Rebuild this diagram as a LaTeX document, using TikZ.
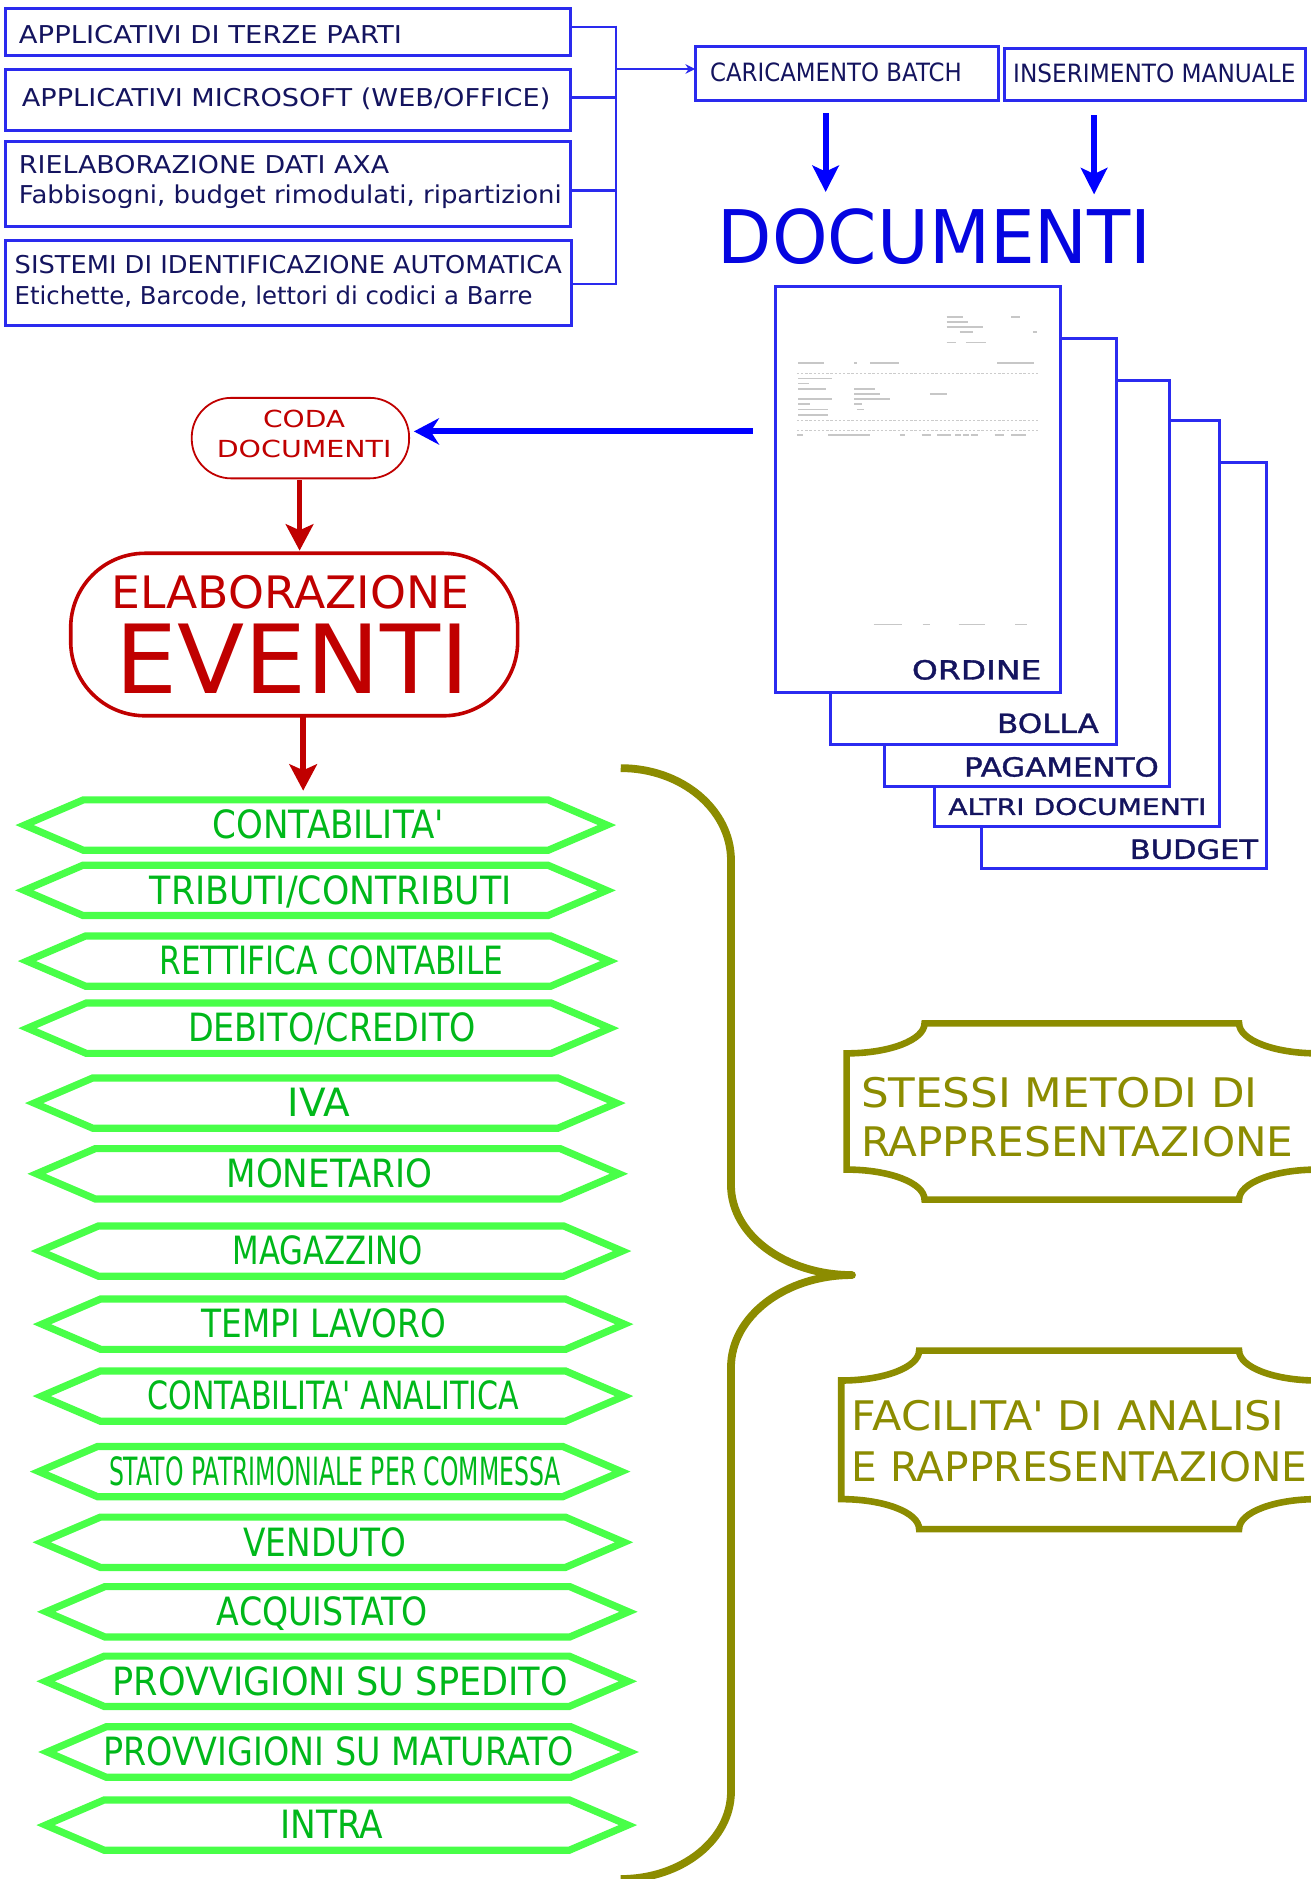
\documentclass[tikz,border=0pt]{standalone}
\usepackage{fontspec}
\setmainfont{DejaVu Sans}
\newfontfamily\pgfont[FakeBold=1.2]{DejaVu Sans}
\usetikzlibrary{arrows.meta}
\definecolor{navy}{HTML}{14145F}
\definecolor{bxblue}{HTML}{2A2AEE}
\definecolor{arblue}{HTML}{0000FF}
\definecolor{docblue}{HTML}{0505E0}
\definecolor{pgblue}{HTML}{2B2BF0}
\definecolor{dred}{HTML}{C00000}
\definecolor{hexg}{HTML}{48FF48}
\definecolor{txtg}{HTML}{00B81A}
\definecolor{olivetwo}{HTML}{8C8C00}
\newcommand{\fw}[2]{\resizebox{#1pt}{\height}{#2}}
\newcommand{\fs}[1]{\fontsize{#1}{#1}\selectfont}
\newcommand{\ap}{\textquotesingle}
\newcommand{\hexa}[6]{%
  \node[hexbox] (#1) at (#2,#3) {};
  \draw[hexline] (#1.west) -- ([xshift=49pt]#1.north west) -- ([xshift=-49pt]#1.north east) -- (#1.east) -- ([xshift=-49pt]#1.south east) -- ([xshift=49pt]#1.south west) -- cycle;
  \node[gtext] (#1t) at (#4,#3+11.5) {\fw{#5}{#6}};
}
\newcommand{\plaque}[4]{%
  \draw[plq] (#1,#2+25) .. controls (#1+35.9,#2+25) and (#1+65,#2+13.8) .. (#1+65,#2) -- (#3-65,#2) .. controls (#3-65,#2+13.8) and (#3-35.9,#2+25) .. (#3,#2+25) -- (#3,#4-25) .. controls (#3-35.9,#4-25) and (#3-65,#4-13.8) .. (#3-65,#4) -- (#1+65,#4) .. controls (#1+65,#4-13.8) and (#1+35.9,#4-25) .. (#1,#4-25) -- cycle;
}
\begin{document}
\begin{tikzpicture}[x=1pt,y=-1pt,
  lbl/.style={inner sep=0pt,outer sep=0pt,anchor=base west},
  lblc/.style={inner sep=0pt,outer sep=0pt,anchor=base},
  lble/.style={inner sep=0pt,outer sep=0pt,anchor=base east},
  srcbox/.style={draw=bxblue,line width=2.5pt,anchor=north west,inner sep=0pt,outer sep=0pt},
  conn/.style={draw=bxblue,line width=2pt},
  varrow/.style={draw=arblue,line width=5pt,-{Stealth[length=22pt,width=22pt,inset=5pt]}},
  harrow/.style={draw=arblue,line width=5pt,-{Stealth[length=21pt,width=22pt,inset=7pt]}},
  rarrow/.style={draw=dred,line width=4.5pt,-{Stealth[length=22pt,width=23pt,inset=5pt]}},
  page/.style={draw=pgblue,fill=white,line width=2.5pt,anchor=north west,minimum width=238pt,minimum height=339pt,inner sep=0pt,outer sep=0pt},
  plabel/.style={lble,text=navy},
  scan/.style={draw=black!22,line width=1.1pt},
  scand/.style={draw=black!20,line width=0.8pt,dash pattern=on 2pt off 1.5pt},
  hexbox/.style={minimum width=486pt,minimum height=42pt,inner sep=0pt,outer sep=0pt},
  hexline/.style={draw=hexg,line width=6pt,line join=miter},
  gtext/.style={inner sep=0pt,outer sep=0pt,anchor=base,font=\fs{32.5},text=txtg},
  plq/.style={draw=olivetwo,line width=5.5pt},
  plqtext/.style={lbl,font=\fs{34},text=olivetwo},
  brace/.style={draw=olivetwo,line width=6.5pt,line join=round}
]
\fill[white] (0,0) rectangle (1094,1568);
\useasboundingbox (0,0) rectangle (1094,1568);
\clip (0,0) rectangle (1094,1568);

% ---- source boxes ----
\node[srcbox,minimum width=471pt,minimum height=39pt] (b1) at (5,7) {};
\node[srcbox,minimum width=471pt,minimum height=50.6pt] (b2) at (5,58.4) {};
\node[srcbox,minimum width=471pt,minimum height=71pt] (b3) at (5,118) {};
\node[srcbox,minimum width=472pt,minimum height=71pt] (b4) at (5,201) {};
\begin{scope}[every node/.style={lbl,font=\fs{20.5},text=navy}]
\node (t1) at (15.8,36.2) {\fw{319.6}{APPLICATIVI DI TERZE PARTI}};
\node (t2) at (18.3,89) {\fw{441}{APPLICATIVI MICROSOFT (WEB/OFFICE)}};
\node (t3a) at (15.8,144.7) {\fw{309}{RIELABORAZIONE DATI AXA}};
\node (t3b) at (15.8,170) {\fw{453}{Fabbisogni, budget rimodulati, ripartizioni}};
\node (t4a) at (12.3,228) {\fw{456.6}{SISTEMI DI IDENTIFICAZIONE AUTOMATICA}};
\node (t4b) at (12.3,254.5) {\fw{432}{Etichette, Barcode, lettori di codici a Barre}};
\end{scope}

% ---- batch / manual ----
\node[srcbox,minimum width=253pt,minimum height=44.5pt] (cb) at (580,39) {};
\node[srcbox,minimum width=251.6pt,minimum height=43.7pt] (im) at (838,40.3) {};
\node[lbl,font=\fs{21},text=navy] (tcb) at (592.6,68.2) {\fw{210}{CARICAMENTO BATCH}};
\node[lbl,font=\fs{21},text=navy] (tim) at (845.5,68.5) {\fw{235.5}{INSERIMENTO MANUALE}};

% ---- bus ----
\coordinate (k1) at (514,22.3);
\coordinate (k2) at (514,81.5);
\coordinate (k3) at (514,159);
\coordinate (k4) at (514,237);
\coordinate (k0) at (514,57.6);
\draw[conn] (b1.east |- k1) -- (k1);
\draw[conn] (b2.east |- k2) -- (k2);
\draw[conn] (b3.east |- k3) -- (k3);
\draw[conn] (b4.east |- k4) -- (k4);
\draw[conn] ([yshift=1pt]k1) -- ([yshift=-1pt]k4);
\draw[conn,-{Stealth[length=8pt,width=8pt]}] (k0) -- (cb.west |- k0);

% ---- DOCUMENTI ----
\node[lbl,font=\fs{61.7},text=docblue] (doct) at (599,220) {\fw{362}{DOCUMENTI}};
\coordinate (xa) at (689,0);
\coordinate (xb) at (913,0);
\draw[varrow,shorten <=11pt,shorten >=14pt] (cb.south -| xa) -- (doct.north -| xa);
\draw[varrow,shorten <=12pt,shorten >=12pt] (im.south -| xb) -- (doct.north -| xb);

% ---- pages ----
\node[page] (pbud) at (819,386) {};
\node[plabel,font=\pgfont\fs{22}] (lbud) at (1049.8,716.7) {\fw{107}{BUDGET}};
\node[page] (palt) at (779.5,350.5) {};
\node[plabel,font=\pgfont\fs{19}] (lalt) at (1006.7,680) {\fw{215.3}{ALTRI DOCUMENTI}};
\node[page] (ppag) at (737.8,317.7) {};
\node[plabel,font=\pgfont\fs{22}] (lpag) at (967,648) {\fw{162.5}{PAGAMENTO}};
\node[page] (pbol) at (693.4,282.6) {};
\node[plabel,font=\pgfont\fs{22}] (lbol) at (917,611.6) {\fw{85}{BOLLA}};
\node[page] (pord) at (647,239) {};
\node[plabel,font=\pgfont\fs{22}] (lord) at (869,567) {\fw{108}{ORDINE}};
% faint scanned content
\foreach \a/\b/\y in {790/804/264.5,844/851/264.5,790/808/268.6,790/820/273,801/812/277,862/865/277,790/798/286,806/823/286,
  666/688/303,713/715/303,726/750/303,832/863/303,
  666/694/316,666/675/320,666/689/324.7,713/730/324.7,713/734/328.8,776/790/328.8,666/694/333,713/743/333,666/676/337,713/719/337,666/691/342,715/721/342,666/691/346.3,
  665/670/363,691/726/363,751/755/363,769/777/363,782/794/363,797/802/363,804/809/363,810/816/363,830/838/363,844/856/363,
  729/752.6/521,770/776/521,800/822/521,847/857/521}
  \draw[scan] (\a,\y) -- (\b,\y);
\foreach \y in {311.3,350.5,359}
  \draw[scand] (665,\y) -- (867,\y);

% ---- CODA / ELABORAZIONE ----
\node[draw=dred,line width=1.5pt,rounded corners=33pt,minimum width=181.4pt,minimum height=67.2pt,inner sep=0pt,outer sep=0pt] (coda) at (250.7,365.6) {};
\node[lblc,font=\fs{19.6},text=dred] (tc1) at (253.8,356.4) {\fw{68.5}{CODA}};
\node[lblc,font=\fs{19.6},text=dred] (tc2) at (253.8,381.6) {\fw{145.7}{DOCUMENTI}};
\node[draw=dred,line width=3pt,rounded corners=62pt,minimum width=373pt,minimum height=135.6pt,inner sep=0pt,outer sep=0pt] (elab) at (245.5,529.5) {};
\node[lblc,font=\fs{37.3},text=dred] (te1) at (242.3,507.7) {\fw{298.6}{ELABORAZIONE}};
\node[lblc,font=\fs{79.6},text=dred] (te2) at (244,578.6) {\fw{295}{EVENTI}};

\coordinate (yh) at (0,360);
\draw[harrow,shorten <=19pt,shorten >=4pt] (pord.west |- yh) -- (coda.east |- yh);

% ---- hexagons ----
\hexa{g1}{263.5}{688.5}{274}{193}{CONTABILITA\ap}
\hexa{g2}{263.25}{743}{276}{302}{TRIBUTI/CONTRIBUTI}
\hexa{g3}{265.5}{802}{276.5}{287}{RETTIFICA CONTABILE}
\hexa{g4}{266}{858}{277}{240}{DEBITO/CREDITO}
\hexa{g5}{271.5}{920.5}{266}{52}{IVA}
\hexa{g6}{273.5}{979.5}{275}{172}{MONETARIO}
\hexa{g7}{276.25}{1044}{273.5}{159}{MAGAZZINO}
\hexa{g8}{278}{1105}{270}{204}{TEMPI LAVORO}
\hexa{g9}{277.8}{1165}{278}{310}{CONTABILITA\ap{} ANALITICA}
\hexa{g10}{275.5}{1228}{279.5}{377}{STATO PATRIMONIALE PER COMMESSA}
\hexa{g11}{277.8}{1287}{271}{136}{VENDUTO}
\hexa{g12}{281.5}{1345}{269}{176}{ACQUISTATO}
\hexa{g13}{281}{1403}{284}{380}{PROVVIGIONI SU SPEDITO}
\hexa{g14}{282.5}{1462}{282.5}{393}{PROVVIGIONI SU MATURATO}
\hexa{g15}{281}{1523}{277}{86}{INTRA}

% ---- red arrows ----
\coordinate (xr1) at (250,0);
\coordinate (xr2) at (253,0);
\draw[rarrow,shorten <=1.4pt,shorten >=2.2pt] (coda.south -| xr1) -- (elab.north -| xr1);
\draw[rarrow,shorten <=1pt,shorten >=7.7pt] (elab.south -| xr2) -- (g1.north -| xr2);

% ---- brace ----
\draw[brace] (518,641) .. controls (568.8,641) and (610,675.5) .. (610,718) -- (610,989) .. controls (610,1030.4) and (655.2,1064) .. (711,1064) .. controls (655.2,1064) and (610,1098.5) .. (610,1141) -- (610,1495) .. controls (610,1535.3) and (568.8,1568) .. (518,1568);

% ---- plaques ----
\plaque{706.5}{854}{1099}{1001}
\plaque{702}{1127}{1099}{1276}
\node[plqtext] (p1a) at (718.5,924) {\fw{331}{STESSI METODI DI}};
\node[plqtext] (p1b) at (718.5,965.3) {\fw{361}{RAPPRESENTAZIONE}};
\node[plqtext] (p2a) at (710.7,1194) {\fw{361.3}{FACILITA\ap{} DI ANALISI}};
\node[plqtext] (p2b) at (710.7,1236.4) {\fw{380.3}{E RAPPRESENTAZIONE}};
\end{tikzpicture}
\end{document}
